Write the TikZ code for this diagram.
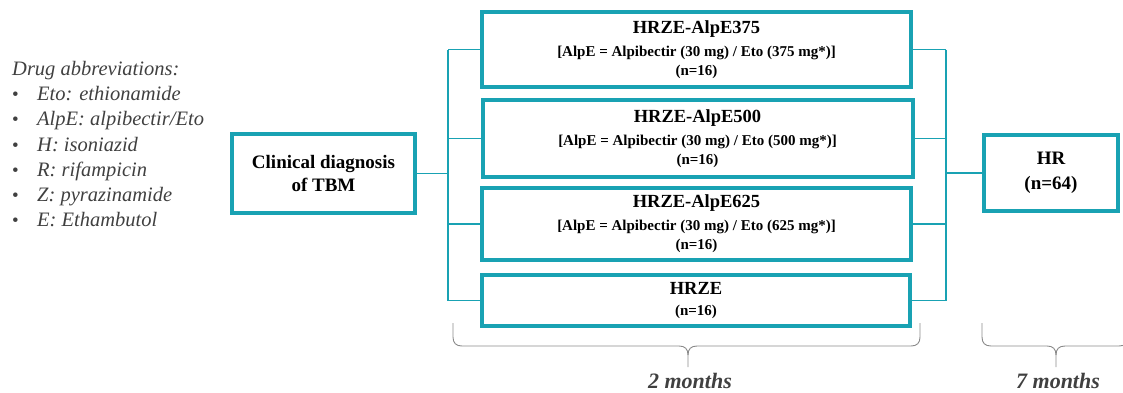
\documentclass[tikz,border=0pt]{standalone}
\usepackage{fontspec}
\setmainfont{LiberationSerif}[Extension=.ttf, UprightFont=*-Regular, BoldFont=*-Bold,
  ItalicFont=*-Italic, BoldItalicFont=*-BoldItalic]
\definecolor{armteal}{HTML}{19A2B3}
\definecolor{inkgray}{HTML}{404040}
\definecolor{bracegray}{HTML}{8A8A8A}
\newcommand\armtitle[1]{{\fontsize{18.5}{22}\selectfont #1}}
\newcommand\legbullet{\makebox[25pt][l]{\upshape\fontsize{19}{19}\selectfont\textbullet}}
% horizontal curly bracket: left x, right x, tip x
\newcommand\drawbrace[3]{%
  \draw[bracestyle] (#1,323) -- (#1,337) .. controls (#1,343) and (#1+3,346) .. (#1+9,346)
    -- (#3-9,346) .. controls (#3-3,346) and (#3,349) .. (#3,355) -- (#3,367);
  \draw[bracestyle] (#2,323) -- (#2,337) .. controls (#2,343) and (#2-3,346) .. (#2-9,346)
    -- (#3+9,346) .. controls (#3+3,346) and (#3,349) .. (#3,355);
}
\begin{document}
\begin{tikzpicture}[x=1pt,y=-1pt,
  armbox/.style={draw=armteal, line width=4pt, fill=white, inner sep=0pt,
    align=center, text=black, font=\fontsize{15}{19}\selectfont\bfseries},
  bigbox/.style={armbox, font=\fontsize{19}{23}\selectfont\bfseries},
  link/.style={draw=armteal, line width=1.8pt},
  bracestyle/.style={draw=bracegray, line width=0.9pt},
  legend/.style={anchor=base west, inner sep=0pt, text=inkgray,
    font=\fontsize{20.5}{24}\selectfont\itshape},
  monthlabel/.style={anchor=base, inner sep=0pt, text=inkgray,
    font=\fontsize{22}{26}\selectfont\bfseries\itshape}]
\useasboundingbox (0,0) rectangle (1123,392);

% legend
\node[legend] (leg0) at (12,75)  {Drug abbreviations:};
\node[legend] (leg1) at (12,100) {\legbullet Eto: ethionamide};
\node[legend] (leg2) at (12,125) {\legbullet AlpE: alpibectir/Eto};
\node[legend] (leg3) at (12,151) {\legbullet H: isoniazid};
\node[legend] (leg4) at (12,176) {\legbullet R: rifampicin};
\node[legend] (leg5) at (12,201) {\legbullet Z: pyrazinamide};
\node[legend] (leg6) at (12,226) {\legbullet E: Ethambutol};

% entry
\node[bigbox, minimum width=183, minimum height=79] (clin) at (323.5,173.5)
  {Clinical diagnosis\\of TBM};

% randomised arms
\node[armbox, minimum width=429, minimum height=75] (b1) at (696.5,49.5)
  {\armtitle{HRZE-AlpE375}\\[4pt][AlpE = Alpibectir (30 mg) / Eto (375 mg*)]\\(n=16)};
\node[armbox, minimum width=430, minimum height=77] (b2) at (697.5,138.5)
  {\armtitle{HRZE-AlpE500}\\[4pt][AlpE = Alpibectir (30 mg) / Eto (500 mg*)]\\(n=16)};
\node[armbox, minimum width=429, minimum height=72] (b3) at (696.5,224)
  {\armtitle{HRZE-AlpE625}\\[4pt][AlpE = Alpibectir (30 mg) / Eto (625 mg*)]\\(n=16)};
\node[armbox, minimum width=428, minimum height=51] (b4) at (696,300.5)
  {\armtitle{HRZE}\\[2pt](n=16)};

% continuation phase
\node[bigbox, minimum width=134, minimum height=76] (hr) at (1051,173)
  {HR\\[2pt](n=64)};

% connectors
\coordinate (lbus) at (448,173);
\coordinate (rbus) at (946,174);
\draw[link] (clin.east) -- (clin.east -| lbus);
\draw[link] (b1.west -| lbus) -- (b4.west -| lbus);
\draw[link] (b1.east -| rbus) -- (b4.east -| rbus);
\foreach \b in {b1,b2,b3,b4}{
  \draw[link] (\b.west) -- (\b.west -| lbus);
  \draw[link] (\b.east) -- (\b.east -| rbus);
}
\draw[link] (hr.west) -- (hr.west -| rbus);

% treatment durations
\drawbrace{453}{920}{688}
\drawbrace{982}{1128}{1056}
\node[monthlabel] (two) at (690,388) {2 months};
\node[monthlabel] (seven) at (1058,388) {7 months};
\end{tikzpicture}
\end{document}
